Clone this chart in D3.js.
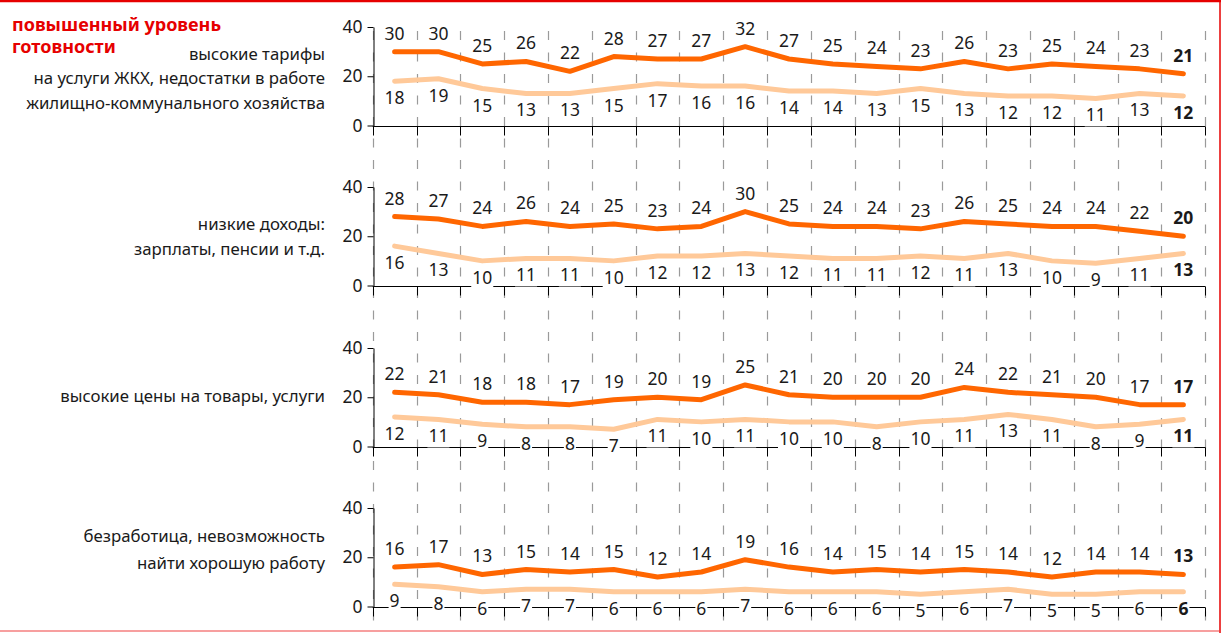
<!DOCTYPE html>
<html>
<head>
<meta charset="utf-8">
<script src="https://cdn.jsdelivr.net/npm/d3@7"></script>
<style>
  body { margin: 0; background: #fff; }
  svg { display: block; font-family: "Noto Sans", sans-serif; }
</style>
</head>
<body>
<div id="chart"></div>
<script>
const width = 1221;
const height = 633;

const title = ['повышенный уровень', 'готовности'];

const categories = [
  ['высокие тарифы', 'на услуги ЖКХ, недостатки в работе', 'жилищно-коммунального хозяйства'],
  ['низкие доходы:', 'зарплаты, пенсии и т.д.'],
  ['высокие цены на товары, услуги'],
  ['безработица, невозможность', 'найти хорошую работу']
];

const highValues = [
  [30, 30, 25, 26, 22, 28, 27, 27, 32, 27, 25, 24, 23, 26, 23, 25, 24, 23, 21],
  [28, 27, 24, 26, 24, 25, 23, 24, 30, 25, 24, 24, 23, 26, 25, 24, 24, 22, 20],
  [22, 21, 18, 18, 17, 19, 20, 19, 25, 21, 20, 20, 20, 24, 22, 21, 20, 17, 17],
  [16, 17, 13, 15, 14, 15, 12, 14, 19, 16, 14, 15, 14, 15, 14, 12, 14, 14, 13]
];

const lowValues = [
  [18, 19, 15, 13, 13, 15, 17, 16, 16, 14, 14, 13, 15, 13, 12, 12, 11, 13, 12],
  [16, 13, 10, 11, 11, 10, 12, 12, 13, 12, 11, 11, 12, 11, 13, 10, 9, 11, 13],
  [12, 11, 9, 8, 8, 7, 11, 10, 11, 10, 10, 8, 10, 11, 13, 11, 8, 9, 11],
  [9, 8, 6, 7, 7, 6, 6, 6, 7, 6, 6, 6, 5, 6, 7, 5, 5, 6, 6]
];

const yTicks = [0, 20, 40];

// layout
const panelTops = [27, 187, 348, 508];
const panelH = 98.5;
const labelBaselines = [59.5, 230, 402, 542];
const labelStep = [24.5, 25, 25, 26.5];
const darkColor = '#ff6600';
const lightColor = '#ffc999';
const red = '#e60000';

const svg = d3.select('#chart')
  .append('svg')
  .attr('width', width)
  .attr('height', height);

// frame lines
svg.append('line').attr('x1', 0).attr('x2', width).attr('y1', 1).attr('y2', 1)
  .attr('stroke', red).attr('stroke-width', 2.5);
svg.append('line').attr('x1', width - 1).attr('x2', width - 1).attr('y1', 0).attr('y2', height)
  .attr('stroke', red).attr('stroke-width', 1.5);
svg.append('line').attr('x1', 0).attr('x2', width).attr('y1', height - 2).attr('y2', height - 2)
  .attr('stroke', '#f04040').attr('stroke-width', 1.2);

const idx = highValues[0].map((d, i) => i);

const x = d3.scaleBand()
  .domain(idx)
  .range([372.7, 1205.3]);

const bounds = idx.map(i => x(i)).concat([x.range()[1]]);

// dashed vertical grid running through all panels
svg.selectAll('.grid')
  .data(bounds)
  .enter()
  .append('line')
  .attr('class', 'grid')
  .attr('x1', d => Math.round(d) + 0.5)
  .attr('x2', d => Math.round(d) + 0.5)
  .attr('y1', 31)
  .attr('y2', 625)
  .attr('stroke', '#9a9a9a')
  .attr('stroke-width', 1.2)
  .attr('stroke-dasharray', '9,12.5');

// title, one text per line
svg.selectAll('.title')
  .data(title)
  .enter()
  .append('text')
  .attr('class', 'title')
  .attr('x', 12)
  .attr('y', (d, i) => 30.5 + i * 22.5)
  .text(d => d)
  .style('font-size', '18px')
  .style('font-weight', 'bold')
  .style('fill', red);

categories.forEach(function (lines, p) {
  const top = panelTops[p];
  const y = d3.scaleLinear().domain([0, 40]).range([top + panelH, top]);
  const g = svg.append('g');

  // category label
  g.selectAll('.cat')
    .data(lines)
    .enter()
    .append('text')
    .attr('class', 'cat')
    .attr('x', 325)
    .attr('y', (d, i) => labelBaselines[p] + i * labelStep[p])
    .text(d => d)
    .style('font-size', '16.8px')
    .style('fill', '#1a1a1a')
    .style('text-anchor', 'end');

  // y axis
  const yAxis = g.append('g')
    .attr('transform', `translate(${Math.round(x.range()[0]) + 0.5},0)`)
    .call(d3.axisLeft(y).tickValues(yTicks).tickSize(6).tickPadding(5).tickSizeOuter(0));
  yAxis.select('.domain').attr('stroke', '#000');
  yAxis.selectAll('.tick line').attr('stroke', '#000');
  yAxis.selectAll('.tick text')
    .style('font-size', '17.5px')
    .style('fill', '#1a1a1a')
    .style('font-family', '"Noto Sans", sans-serif');

  // x axis line with ticks at band boundaries
  const base = Math.round(y(0)) + 0.5;
  g.append('line')
    .attr('x1', x.range()[0]).attr('x2', x.range()[1])
    .attr('y1', base).attr('y2', base)
    .attr('stroke', '#000');
  g.selectAll('.xtick')
    .data(bounds)
    .enter()
    .append('line')
    .attr('x1', d => Math.round(d) + 0.5)
    .attr('x2', d => Math.round(d) + 0.5)
    .attr('y1', base)
    .attr('y2', base + 9)
    .attr('stroke', '#000');

  const line = d3.line()
    .x((d, i) => x(i) + x.bandwidth() / 2)
    .y(d => y(d));

  g.append('path')
    .datum(lowValues[p])
    .attr('d', line)
    .attr('fill', 'none')
    .attr('stroke', lightColor)
    .attr('stroke-width', 5)
    .attr('stroke-linecap', 'round')
    .attr('stroke-linejoin', 'round');

  g.append('path')
    .datum(highValues[p])
    .attr('d', line)
    .attr('fill', 'none')
    .attr('stroke', darkColor)
    .attr('stroke-width', 5)
    .attr('stroke-linecap', 'round')
    .attr('stroke-linejoin', 'round');

  const last = highValues[p].length - 1;

  function addLabels(values, dy) {
    const lg = g.append('g');
    values.forEach(function (v, i) {
      const t = lg.append('text')
        .attr('x', x(i) + x.bandwidth() / 2)
        .attr('y', y(v) + dy)
        .text(v)
        .style('font-size', '17.5px')
        .style('fill', '#1a1a1a')
        .style('font-weight', i === last ? 'bold' : 'normal')
        .style('text-anchor', 'middle');
      const b = t.node().getBBox();
      lg.insert('rect', 'text')
        .attr('x', b.x - 1)
        .attr('y', b.y + 3)
        .attr('width', b.width + 2)
        .attr('height', b.height - 3)
        .attr('fill', '#fff');
    });
  }

  addLabels(highValues[p], -12);
  addLabels(lowValues[p], 23);
});
</script>
</body>
</html>
